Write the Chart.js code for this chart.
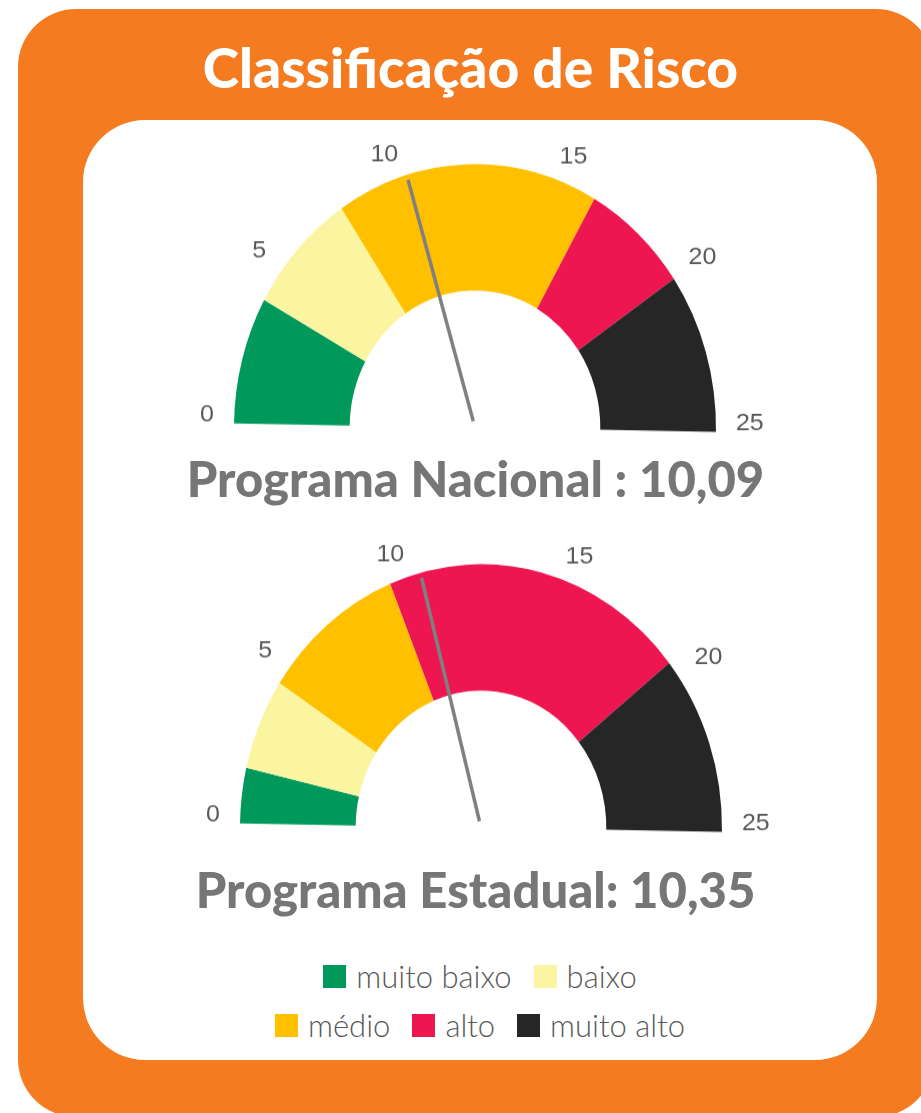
<!DOCTYPE html>
<html>
<head>
<meta charset="utf-8">
<script src="https://cdn.jsdelivr.net/npm/chart.js@4.4.1/dist/chart.umd.min.js"></script>
<style>
  body { margin: 0; width: 921px; height: 1113px; overflow: hidden; background: #fff; position: relative; font-family: Lato, "Noto Sans", sans-serif; }
  #frame { position: absolute; left: 18px; top: 9px; width: 916px; height: 1108px; background: #F47B20; border-radius: 58px; }
  #panel { position: absolute; left: 83px; top: 120px; width: 794px; height: 940px; background: #fff; border-radius: 62px; }
  #title { position: absolute; left: 0; width: 941px; top: 40px; text-align: center; color: #fff; font-weight: 900; font-size: 55px; line-height: 1; white-space: nowrap; }
  .gauge { position: absolute; width: 640px; height: 300px; }
  .glabel { position: absolute; left: 0; width: 951px; text-align: center; color: #767676; font-weight: 900; font-size: 49px; line-height: 1; white-space: nowrap; }
  .lrow { position: absolute; left: 0; width: 960px; height: 40px; display: flex; justify-content: center; align-items: center; color: #595959; font-size: 31px; font-weight: 300; }
  .litem { display: flex; align-items: center; margin: 0 11px; }
  .lbox { width: 23px; height: 23px; margin-right: 10px; }
</style>
</head>
<body>
<div id="frame"></div>
<div id="panel"></div>
<div id="title">Classificação de Risco</div>
<div class="gauge" id="nacional"><canvas width="640" height="300"></canvas></div>
<div class="gauge" id="estadual"><canvas width="640" height="300"></canvas></div>
<div class="glabel" id="label0" style="top:454px"></div>
<div class="glabel" id="label1" style="top:865px"></div>
<div class="lrow" id="row0" style="top:956px"></div>
<div class="lrow" id="row1" style="top:1005px"></div>
<script>
const categories = ['muito baixo', 'baixo', 'médio', 'alto', 'muito alto'];
const bandColors = ['#00995B', '#FBF5A1', '#FFC000', '#ED1651', '#262626'];
const nacionalBands = [3.9, 3.8, 8.8, 3.6, 4.9];
const estadualBands = [1.7, 2.8, 4.8, 10.2, 5.5];
const tickValues = [0, 5, 10, 15, 20, 25];
const gaugeTitles = ['Programa Nacional :', 'Programa Estadual:'];
const gaugeScores = [10.09, 10.35];

// the gauges in the picture are a bit taller than wide and tilted slightly
const RADIUS = 241;
const STRETCH = 1.093;
const TILT = 0.9;

const gauges = [
    { id: 'nacional', bands: nacionalBands, score: gaugeScores[0], cx: 475, cy: 427.5 },
    { id: 'estadual', bands: estadualBands, score: gaugeScores[1], cx: 480.5, cy: 828 }
];

const gaugeExtras = {
    id: 'gaugeExtras',
    afterDatasetsDraw(chart, args, opts) {
        const arc = chart.getDatasetMeta(0).data[0];
        const x = arc.x, y = arc.y, r = arc.outerRadius;
        const max = tickValues[tickValues.length - 1];
        const start = (TILT - 180) * Math.PI / 180;
        const ang = v => start + v / max * Math.PI;
        const ctx = chart.ctx;
        ctx.save();

        // needle
        const a = ang(opts.score);
        ctx.strokeStyle = '#808080';
        ctx.lineWidth = 3.5;
        ctx.beginPath();
        ctx.moveTo(x + 6 * Math.cos(a), y + 6 * Math.sin(a));
        ctx.lineTo(x + r * 0.98 * Math.cos(a), y + r * 0.98 * Math.sin(a));
        ctx.stroke();

        // scale numbers round the outside
        ctx.fillStyle = '#595959';
        ctx.font = '25px "Liberation Sans", Arial, sans-serif';
        ctx.textBaseline = 'middle';
        tickValues.forEach(v => {
            const t = ang(v);
            const c = Math.cos(t);
            ctx.textAlign = c < -0.2 ? 'right' : (c > 0.2 ? 'left' : 'center');
            ctx.save();
            ctx.translate(x + (r + 20) * c, y + (r + 20) * Math.sin(t) - 8 * c * c);
            ctx.scale(1, 1 / STRETCH);
            ctx.fillText(String(v), 0, 0);
            ctx.restore();
        });
        ctx.restore();
    }
};

gauges.forEach((g, i) => {
    const wrap = document.getElementById(g.id);
    const chart = new Chart(wrap.querySelector('canvas'), {
        type: 'doughnut',
        data: {
            labels: categories,
            datasets: [{ data: g.bands, backgroundColor: bandColors, borderWidth: 0 }]
        },
        options: {
            responsive: false,
            animation: false,
            rotation: TILT - 90,
            circumference: 180,
            radius: RADIUS,
            cutout: '52%',
            plugins: {
                legend: { display: false },
                tooltip: { enabled: false },
                gaugeExtras: { score: g.score }
            }
        },
        plugins: [gaugeExtras]
    });
    const arc = chart.getDatasetMeta(0).data[0];
    wrap.style.left = (g.cx - arc.x) + 'px';
    wrap.style.top = (g.cy - arc.y) + 'px';
    wrap.style.transformOrigin = arc.x + 'px ' + arc.y + 'px';
    wrap.style.transform = 'scaleY(' + STRETCH + ')';

    document.getElementById('label' + i).textContent =
        gaugeTitles[i] + ' ' + g.score.toFixed(2).replace('.', ',');
});

// legend in two rows like the original
[categories.slice(0, 2), categories.slice(2)].forEach((row, r) => {
    const el = document.getElementById('row' + r);
    row.forEach(name => {
        const item = document.createElement('div');
        item.className = 'litem';
        const box = document.createElement('div');
        box.className = 'lbox';
        box.style.background = bandColors[categories.indexOf(name)];
        const txt = document.createElement('span');
        txt.textContent = name;
        item.appendChild(box);
        item.appendChild(txt);
        el.appendChild(item);
    });
});
</script>
</body>
</html>
